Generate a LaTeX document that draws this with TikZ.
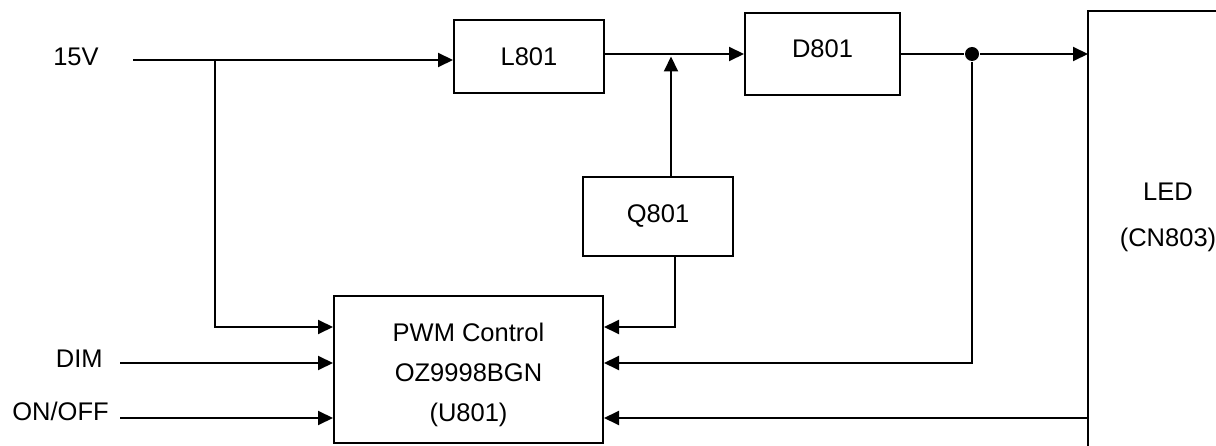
\documentclass[tikz,border=0pt]{standalone}
\usepackage{fontspec}
\setmainfont{Liberation Sans}
\usetikzlibrary{arrows.meta}

\begin{document}
\begin{tikzpicture}[x=1pt,y=-1pt,line width=2pt,>={Triangle[length=15pt,width=14pt]},
  font=\fontsize{25.5}{30}\selectfont,
  blk/.style={draw,line width=2pt,inner sep=0pt}]
\useasboundingbox (0,0) rectangle (1216,446);
\node[blk,minimum width=150pt,minimum height=73pt] (l801) at (529,56.5) {L801};
\node[blk,minimum width=155pt,minimum height=82pt,text depth=10pt] (d801) at (822.5,54) {D801};
\node[blk,minimum width=150pt,minimum height=79pt] (q801) at (658,216.5) {Q801};
\node[blk,minimum width=269pt,minimum height=147pt,align=center,text height=108.6pt,text depth=5.4pt,
  font=\fontsize{25.5}{40}\selectfont] (pwm) at (468.5,369.5) {PWM Control\\OZ9998BGN\\(U801)};
\node[anchor=base east] (v15) at (103,66) {15V};
\node[anchor=base east] (dim) at (107,368) {DIM};
\node[anchor=base east] (onoff) at (113,420) {ON/OFF};
\node[align=center,font=\fontsize{25.5}{46}\selectfont] (led) at (1168,217) {LED\\(CN803)};
\node[circle,fill,inner sep=0pt,minimum size=14pt] (jn) at (972,54) {};
% LED connector, open to the right and bottom
\coordinate (ledtl) at (1088,11);
\draw (1220,11) -- (ledtl) -- (1088,450);
% pins of the PWM block
\coordinate (pwmvin) at ([yshift=42.5pt]pwm.west);
\coordinate (pwmdim) at ([yshift=6.5pt]pwm.west);
\coordinate (pwmon) at ([yshift=-48.5pt]pwm.west);
\coordinate (pwmq) at ([yshift=42.5pt]pwm.east);
\coordinate (pwmfb) at ([yshift=6.5pt]pwm.east);
\coordinate (pwmled) at ([yshift=-48.5pt]pwm.east);
\coordinate (in15) at ([xshift=30pt,yshift=6pt]v15.base east);
\coordinate (tap) at (215,60);
\draw[->] (in15) -- (l801.west |- in15);
\draw[->] (tap) |- (pwmvin);
\draw[->] ([xshift=13pt,yshift=5pt]dim.base east) -- (pwmdim);
\draw[->] ([xshift=7pt,yshift=2pt]onoff.base east) -- (pwmon);
\draw[->] (l801.east |- d801.west) -- (d801.west);
\draw[->] ([xshift=13pt]q801.north) -- ([xshift=13pt]q801.north |- l801.east);
\draw[->] ([xshift=17pt]q801.south) |- (pwmq);
\draw (d801.east) -- (jn);
\draw[->] (jn) -- (ledtl |- jn);
\draw[->] (jn) |- (pwmfb);
\draw[->] (ledtl |- pwmled) -- (pwmled);
\end{tikzpicture}
\end{document}
